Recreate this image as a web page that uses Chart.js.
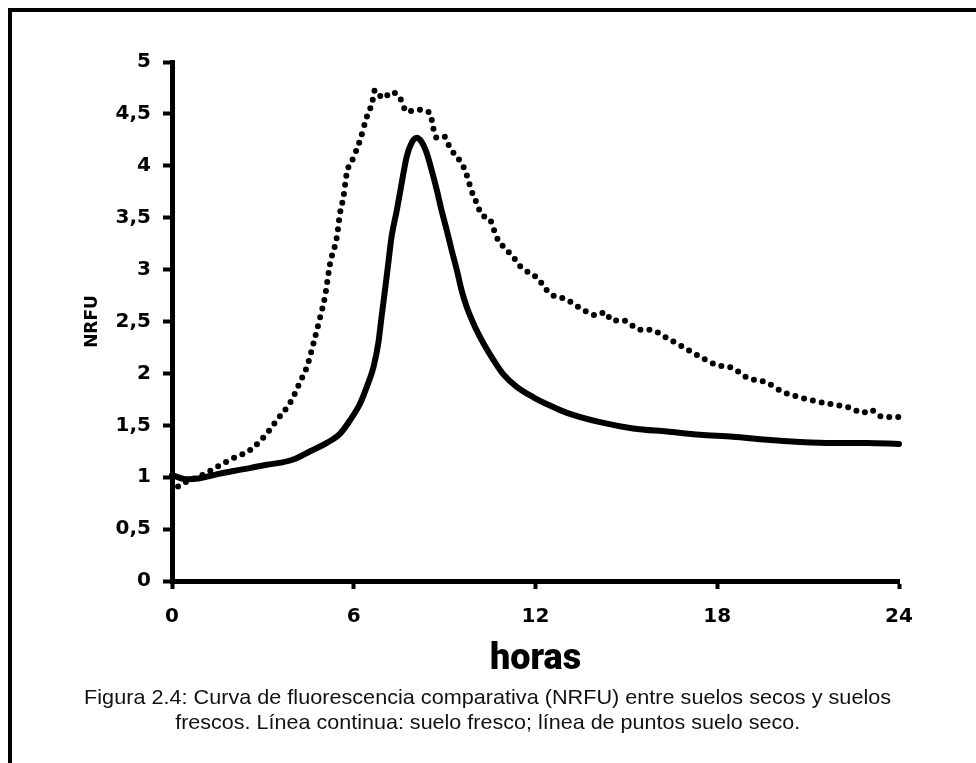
<!DOCTYPE html>
<html><head><meta charset="utf-8">
<script src="https://cdn.jsdelivr.net/npm/chart.js@4.4.1/dist/chart.umd.min.js"></script>
<style>
html,body{margin:0;padding:0;background:#fff;}
#wrap{position:relative;width:976px;height:763px;overflow:hidden;background:#fff;}
#frame{position:absolute;left:8px;top:8px;width:990px;height:790px;border-top:4px solid #000;border-left:4px solid #000;}
#c{position:absolute;left:0;top:0;}
.cap{position:absolute;left:0;width:976px;text-align:center;font-family:'Liberation Sans Narrow','Liberation Sans',Arial,sans-serif;font-size:21px;color:#111;white-space:nowrap;line-height:24px;}
.cap span{display:inline-block;transform-origin:50% 50%;}
</style></head>
<body><div id="wrap"><div id="frame"></div><canvas id="c" width="976" height="763"></canvas>
<div class="cap" id="cap1" style="top:685px"><span data-w="807">Figura 2.4: Curva de fluorescencia comparativa (NRFU) entre suelos secos y suelos</span></div>
<div class="cap" id="cap2" style="top:710px"><span data-w="625">frescos. Línea continua: suelo fresco; línea de puntos suelo seco.</span></div>
</div>
<script>
// Suelo fresco (línea continua)
const freshHours = [0, 0.5, 0.92, 1.5, 2.02, 2.6, 3.13, 3.6, 4.0, 4.56, 5.11, 5.55, 5.88, 6.21, 6.43, 6.65, 6.81, 6.92, 7.03, 7.14, 7.25, 7.42, 7.58, 7.75, 7.91, 8.08, 8.24, 8.41, 8.57, 8.74, 8.9, 9.07, 9.23, 9.4, 9.56, 9.73, 10.0, 10.28, 10.61, 10.94, 11.38, 11.93, 12.48, 13.04, 14.13, 15.22, 16.34, 17.43, 18.52, 19.64, 20.73, 21.82, 22.94, 24];
const freshNRFU  = [1.02, 0.98, 0.99, 1.03, 1.06, 1.09, 1.12, 1.14, 1.17, 1.25, 1.33, 1.42, 1.55, 1.71, 1.87, 2.06, 2.29, 2.55, 2.80, 3.06, 3.32, 3.57, 3.83, 4.09, 4.22, 4.27, 4.23, 4.12, 3.96, 3.77, 3.57, 3.38, 3.19, 3.0, 2.80, 2.64, 2.45, 2.29, 2.13, 1.99, 1.87, 1.77, 1.69, 1.62, 1.53, 1.47, 1.44, 1.41, 1.39, 1.36, 1.34, 1.33, 1.33, 1.32];
// Suelo seco (línea de puntos)
const dryHours = [0.2, 0.5, 1.0, 1.49, 2.0, 2.57, 3.13, 3.46, 3.79, 4.0, 4.23, 4.45, 4.67, 4.89, 5.05, 5.22, 5.44, 5.55, 5.66, 5.77, 5.99, 6.21, 6.43, 6.6, 6.7, 6.97, 7.25, 7.53, 7.75, 8.08, 8.52, 8.62, 8.74, 9.0, 9.18, 9.45, 9.67, 9.9, 10.06, 10.22, 10.5, 10.72, 10.94, 11.27, 11.5, 12.05, 12.48, 13.04, 13.47, 14.03, 14.3, 14.52, 14.9, 15.45, 15.78, 16.34, 16.9, 17.43, 17.99, 18.52, 18.98, 19.64, 20.17, 20.73, 21.29, 21.82, 22.38, 22.8, 23.04, 23.47, 24];
const dryNRFU  = [0.91, 0.96, 1.02, 1.10, 1.18, 1.26, 1.42, 1.55, 1.67, 1.77, 1.92, 2.06, 2.29, 2.54, 2.74, 3.06, 3.31, 3.55, 3.70, 3.93, 4.08, 4.25, 4.47, 4.60, 4.73, 4.65, 4.71, 4.65, 4.52, 4.54, 4.51, 4.37, 4.27, 4.28, 4.17, 4.07, 3.96, 3.75, 3.64, 3.53, 3.48, 3.31, 3.22, 3.12, 3.03, 2.92, 2.77, 2.71, 2.63, 2.56, 2.59, 2.51, 2.51, 2.42, 2.42, 2.34, 2.25, 2.16, 2.08, 2.05, 1.96, 1.91, 1.82, 1.77, 1.73, 1.70, 1.67, 1.62, 1.65, 1.58, 1.58];
const xTickLabels = ['0', '6', '12', '18', '24'];
const yTickLabels = ['0', '0,5', '1', '1,5', '2', '2,5', '3', '3,5', '4', '4,5', '5'];

const toXY = (xs, ys) => xs.map((x, i) => ({x: x, y: ys[i]}));

new Chart(document.getElementById('c'), {
  type: 'line',
  data: {
    datasets: [
      { label: 'Suelo seco', data: toXY(dryHours, dryNRFU), borderColor: '#000', borderWidth: 6,
        borderDash: [0, 9], borderCapStyle: 'round', borderJoinStyle: 'round',
        pointRadius: 0, cubicInterpolationMode: 'monotone', fill: false, clip: false },
      { label: 'Suelo fresco', data: toXY(freshHours, freshNRFU), borderColor: '#000', borderWidth: 6,
        borderCapStyle: 'round', borderJoinStyle: 'round',
        pointRadius: 0, cubicInterpolationMode: 'monotone', fill: false, clip: false }
    ]
  },
  options: {
    responsive: false, animation: false, devicePixelRatio: 1,
    layout: { padding: { left: 0, top: 62, right: 77, bottom: 0 } },
    plugins: { legend: { display: false }, tooltip: { enabled: false } },
    scales: {
      x: {
        type: 'linear', min: 0, max: 24,
        afterFit: s => { s.height = 182; },
        ticks: { stepSize: 6, autoSkip: false, maxRotation: 0, padding: 16, color: '#000',
                 font: { family: 'DejaVu Sans', weight: 'bold', size: 20 },
                 callback: (v, i) => xTickLabels[i] ?? '' },
        grid: { drawOnChartArea: false, drawTicks: true, tickLength: 8, tickWidth: 4, tickColor: '#000' },
        border: { display: true, color: '#000', width: 5 },
        title: { display: true, text: 'horas', color: '#000',
                 font: { family: 'Roboto', weight: 900, size: 36 }, padding: { top: 0, bottom: 81 } }
      },
      y: {
        min: 0, max: 5,
        afterFit: s => { s.width = 172; },
        ticks: { stepSize: 0.5, autoSkip: false, padding: 12, color: '#000',
                 font: { family: 'DejaVu Sans', weight: 'bold', size: 20 },
                 callback: (v, i) => yTickLabels[i] ?? '' },
        grid: { drawOnChartArea: false, drawTicks: true, tickLength: 9, tickWidth: 4, tickColor: '#000' },
        border: { display: true, color: '#000', width: 5 },
        title: { display: true, text: 'NRFU', color: '#000',
                 font: { family: 'DejaVu Sans', weight: 'bold', size: 17 }, padding: { top: 82, bottom: 0 } }
      }
    }
  }
});

// fit caption lines to the reference widths
document.querySelectorAll('.cap span').forEach(sp => {
  const w = sp.getBoundingClientRect().width;
  const target = parseFloat(sp.dataset.w);
  if (w > 0) sp.style.transform = 'scaleX(' + (target / w) + ')';
});
</script>
</body></html>
